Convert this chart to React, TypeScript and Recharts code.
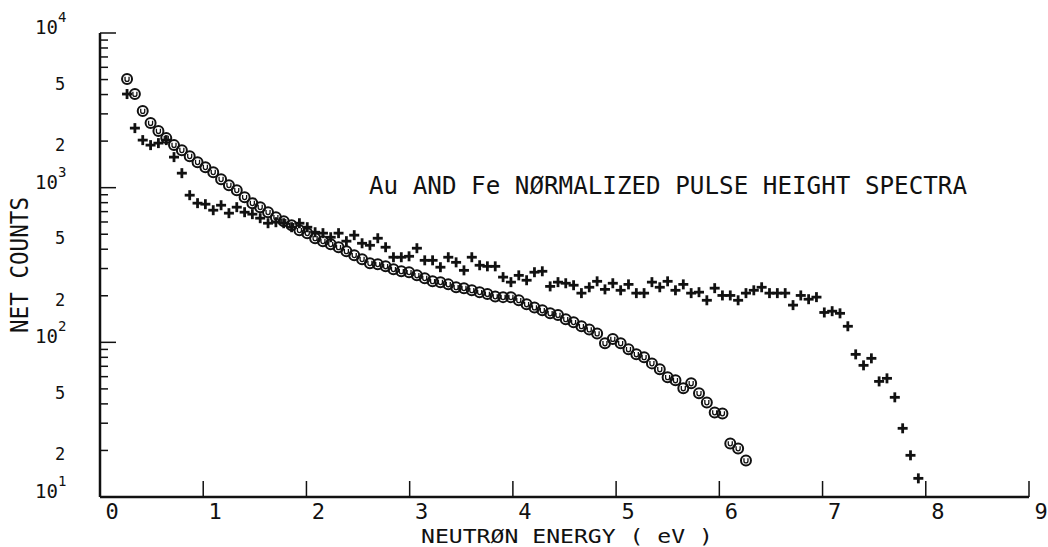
import React from 'react';
import { ScatterChart, Scatter, XAxis, YAxis } from 'recharts';

// Energy channels (eV)
const ENERGY = [
  0.262, 0.338, 0.414, 0.49, 0.566, 0.642, 0.717, 0.793, 0.869, 0.945,
  1.021, 1.097, 1.173, 1.249, 1.325, 1.401, 1.476, 1.552, 1.628, 1.704,
  1.78, 1.856, 1.932, 2.008, 2.084, 2.16, 2.235, 2.311, 2.387, 2.463,
  2.539, 2.615, 2.691, 2.767, 2.843, 2.919, 2.994, 3.07, 3.146, 3.222,
  3.298, 3.374, 3.45, 3.526, 3.602, 3.678, 3.753, 3.829, 3.905, 3.981,
  4.057, 4.133, 4.209, 4.285, 4.361, 4.437, 4.512, 4.588, 4.664, 4.74,
  4.816, 4.892, 4.968, 5.044, 5.12, 5.196, 5.271, 5.347, 5.423, 5.499,
  5.575, 5.651, 5.727, 5.803, 5.879, 5.955, 6.03, 6.106, 6.182, 6.258,
  6.334, 6.41, 6.486, 6.562, 6.638, 6.714, 6.789, 6.865, 6.941, 7.017,
  7.093, 7.169, 7.245, 7.321, 7.397, 7.473, 7.548, 7.624, 7.7, 7.776,
  7.852, 7.928,
];

// Au spectrum (circles)
const AU_COUNTS = [
  5040, 4030, 3130, 2615, 2321, 2091, 1884, 1748, 1599, 1462,
  1357, 1260, 1135, 1038, 963, 868, 794, 748, 694, 644,
  607, 572, 531, 508, 471, 451, 431, 412, 388, 366,
  345, 325, 320, 310, 297, 288, 284, 271, 260, 248,
  245, 237, 227, 224, 217, 211, 205, 198, 196, 196,
  187, 176, 168, 161, 154, 150, 141, 135, 127, 121,
  114, 98.5, 105, 98.5, 90.1, 83.6, 80.0, 73.1, 66.9, 59.4,
  56.8, 50.4, 54.3, 46.8, 40.9, 35.2, 34.7, 22.2, 20.6, 17.2,
];

// Fe spectrum (plus marks)
const FE_COUNTS = [
  4030, 2427, 2030, 1884, 1941, 2030, 1576, 1241, 894, 794,
  782, 715, 770, 684, 748, 694, 674, 635, 589, 598,
  589, 555, 589, 555, 515, 508, 478, 508, 451, 493,
  437, 424, 471, 412, 355, 355, 360, 406, 339, 339,
  306, 355, 329, 292, 355, 315, 310, 310, 264, 245,
  271, 252, 284, 288, 230, 245, 241, 234, 208, 227,
  248, 220, 241, 217, 237, 208, 208, 245, 227, 248,
  217, 237, 208, 211, 187, 224, 201, 201, 187, 208,
  217, 227, 208, 208, 208, 174, 201, 190, 196, 156,
  159, 154, 127, 83.6, 71.0, 78.8, 55.9, 58.5, 44.1, 27.8,
  18.6, 13.2,
];

const X_TICKS = [0, 1, 2, 3, 4, 5, 6, 7, 8, 9];
const Y_TICKS = [
  10, 20, 30, 40, 50, 60, 70, 80, 90,
  100, 200, 300, 400, 500, 600, 700, 800, 900,
  1000, 2000, 3000, 4000, 5000, 6000, 7000, 8000, 9000,
  10000,
];
const Y_DECADES: Record<number, string> = { 10: '1', 100: '2', 1000: '3', 10000: '4' };
const Y_MINOR_LABELS: Record<number, string> = {
  20: '2', 50: '5', 200: '2', 500: '5', 2000: '2', 5000: '5',
};

const TITLE = 'Au AND Fe NØRMALIZED PULSE HEIGHT SPECTRA';
const X_TITLE = 'NEUTRØN ENERGY ( eV )';
const Y_TITLE = 'NET COUNTS';

const auData = AU_COUNTS.map((c, i) => ({ e: ENERGY[i], c }));
const feData = FE_COUNTS.map((c, i) => ({ e: ENERGY[i], c }));

const FONT = "'DejaVu Sans Mono', monospace";
const INK = '#111';

const CircleU = (p: any) => {
  const { cx, cy } = p;
  if (cx == null || cy == null) return null;
  return (
    <g>
      <circle cx={cx} cy={cy} r={5} fill="none" stroke={INK} strokeWidth={2} />
      <path
        d={`M${cx - 2},${cy - 2.3} V${cy + 0.4} A2,2 0 0 0 ${cx + 2},${cy + 0.4} V${cy - 2.3}`}
        fill="none"
        stroke={INK}
        strokeWidth={1.3}
      />
    </g>
  );
};

const Plus = (p: any) => {
  const { cx, cy } = p;
  if (cx == null || cy == null) return null;
  return (
    <g>
      <line x1={cx - 5} x2={cx + 5} y1={cy} y2={cy} stroke={INK} strokeWidth={2.8} />
      <line x1={cx} x2={cx} y1={cy - 5} y2={cy + 5} stroke={INK} strokeWidth={2.8} />
    </g>
  );
};

const BottomTick = (props: any) => {
  const { x, y, payload } = props;
  return (
    <g>
      <line x1={x} x2={x} y1={y} y2={y - 16} stroke={INK} strokeWidth={1.5} />
      <text x={x + 12} y={y + 22} textAnchor="middle" fontFamily={FONT} fontSize={22} fill={INK}>
        {payload.value}
      </text>
    </g>
  );
};

const TopTick = (props: any) => {
  const { x, y } = props;
  return <line x1={x} x2={x} y1={y} y2={y + 16} stroke={INK} strokeWidth={1.5} />;
};

const LeftTick = (props: any) => {
  const { x, y, payload } = props;
  const v = payload.value;
  const exp = Y_DECADES[v];
  const minor = Y_MINOR_LABELS[v];
  const len = exp ? 16 : 8;
  return (
    <g>
      <line x1={x} x2={x + len} y1={y} y2={y} stroke={INK} strokeWidth={1.5} />
      {exp ? (
        <text x={x - 65} y={y + 1} fontFamily={FONT} fontSize={19} fill={INK}>
          <tspan>10</tspan>
          <tspan dy={-12} fontSize={14}>{exp}</tspan>
        </text>
      ) : null}
      {minor ? (
        <text x={x - 40} y={y + 10} textAnchor="middle" fontFamily={FONT} fontSize={17} fill={INK}>
          {minor}
        </text>
      ) : null}
    </g>
  );
};

const RightTick = (props: any) => {
  const { x, y, payload } = props;
  const len = Y_DECADES[payload.value] ? 16 : 8;
  return <line x1={x} x2={x - len} y1={y} y2={y} stroke={INK} strokeWidth={1.5} />;
};

const axisLine = { stroke: INK, strokeWidth: 2.5 };

export default function App() {
  return (
    <div style={{ position: 'absolute', left: 0, top: 0, width: 1048, height: 547, background: '#fff' }}>
      <ScatterChart width={1048} height={547} margin={{ top: 33, right: 19, bottom: 0, left: 0 }}>
        <XAxis
          dataKey="e"
          type="number"
          domain={[0, 9]}
          ticks={X_TICKS}
          interval={0}
          height={50}
          tickSize={0}
          tickMargin={0}
          tickLine={false}
          axisLine={axisLine}
          tick={<BottomTick />}
          allowDataOverflow
        />
        <XAxis
          xAxisId="top"
          orientation="top"
          type="number"
          domain={[0, 9]}
          ticks={X_TICKS}
          interval={0}
          height={0}
          tickSize={0}
          tickMargin={0}
          tickLine={false}
          axisLine={axisLine}
          tick={<TopTick />}
          allowDataOverflow
        />
        <YAxis
          dataKey="c"
          type="number"
          scale="log"
          domain={[10, 10000]}
          ticks={Y_TICKS}
          interval={0}
          width={100}
          tickSize={0}
          tickMargin={0}
          tickLine={false}
          axisLine={axisLine}
          tick={<LeftTick />}
          allowDataOverflow
        />
        <YAxis
          yAxisId="right"
          orientation="right"
          type="number"
          scale="log"
          domain={[10, 10000]}
          ticks={Y_TICKS}
          interval={0}
          width={0}
          tickSize={0}
          tickMargin={0}
          tickLine={false}
          axisLine={axisLine}
          tick={<RightTick />}
          allowDataOverflow
        />
        <Scatter data={auData} shape={CircleU} isAnimationActive={false} />
        <Scatter data={feData} shape={Plus} isAnimationActive={false} />
      </ScatterChart>
      <svg
        width={1048}
        height={547}
        style={{ position: 'absolute', left: 0, top: 0, pointerEvents: 'none' }}
      >
        <text
          x={369}
          y={194}
          fontFamily={FONT}
          fontSize={25}
          fill={INK}
          textLength={598}
          lengthAdjust="spacingAndGlyphs"
        >
          {TITLE}
        </text>
        <text
          x={421}
          y={543}
          fontFamily={FONT}
          fontSize={20}
          fill={INK}
          textLength={292}
          lengthAdjust="spacingAndGlyphs"
        >
          {X_TITLE}
        </text>
        <text
          transform="translate(28,333) rotate(-90)"
          x={0}
          y={0}
          fontFamily={FONT}
          fontSize={24}
          fill={INK}
          textLength={136}
          lengthAdjust="spacingAndGlyphs"
        >
          {Y_TITLE}
        </text>
      </svg>
    </div>
  );
}
